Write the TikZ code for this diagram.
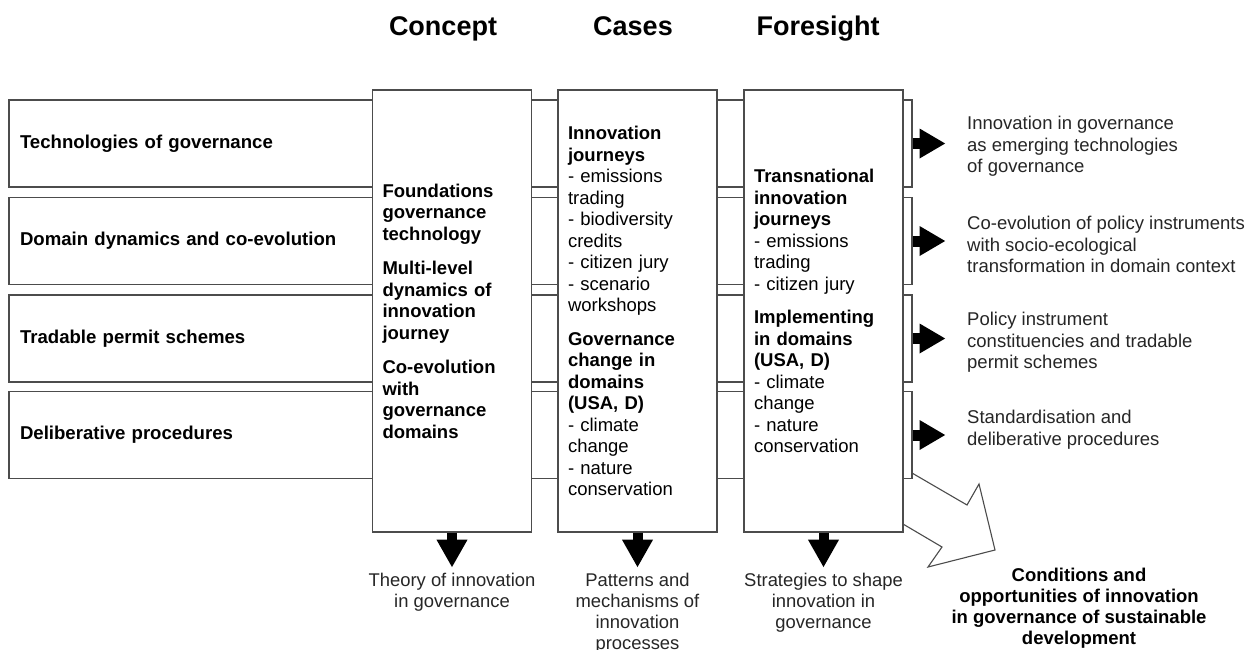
\documentclass[tikz,border=0pt]{standalone}
\usepackage{fontspec}
\setmainfont{Liberation Sans}
\usetikzlibrary{arrows.meta}
\begin{document}
\begin{tikzpicture}[x=1pt,y=-1pt,
  box/.style={draw=black!70, line width=1.1pt, fill=white, inner sep=0pt},
  rowbox/.style={box, minimum width=903pt, minimum height=87pt, text width=881pt, inner xsep=11pt, align=left, font=\fontsize{18.6}{21.5}\selectfont\bfseries},
  colbox/.style={box, minimum width=159pt, minimum height=442pt, text width=139pt, inner xsep=10pt, align=left, font=\fontsize{18.5}{21.5}\selectfont},
  head/.style={font=\fontsize{27}{30}\selectfont\bfseries, anchor=base, inner sep=0pt},
  outtxt/.style={anchor=north west, inner sep=0pt, align=left, font=\fontsize{18.5}{21.5}\selectfont, text=black!85},
  bottxt/.style={anchor=north, inner sep=0pt, align=center, font=\fontsize{18.4}{21}\selectfont, text=black!85},
  conctxt/.style={anchor=north, inner sep=0pt, align=center, font=\fontsize{18.5}{21}\selectfont\bfseries},
  rarrow/.style={line width=11pt, -{Triangle[length=26pt,width=28pt]}},
  darrow/.style={line width=10pt, -{Triangle[length=28pt,width=29pt]}},
  hollow/.style={draw=black!70, line width=1.1pt}
]
\useasboundingbox[fill=white] (0,0) rectangle (1258,649);

% headings
\node[head] (hc) at (443,35) {Concept};
\node[head] (hs) at (633,35) {Cases};
\node[head] (hf) at (818,35) {Foresight};

% rows
\node[rowbox] (r1) at (460.5,143.5) {Technologies of governance};
\node[rowbox] (r2) at (460.5,241) {Domain dynamics and co-evolution};
\node[rowbox] (r3) at (460.5,338.5) {Tradable permit schemes};
\node[rowbox] (r4) at (460.5,435) {Deliberative procedures};

% hollow arrow
\coordinate (h1) at (912,473);
\coordinate (h2) at (967,505);
\coordinate (h3) at (979,484);
\coordinate (h4) at (995,550);
\coordinate (h5) at (928,567);
\coordinate (h6) at (942,547);
\coordinate (h7) at (903,524);
\draw[hollow, line join=miter] (h1) -- (h2) -- (h3) -- (h4) -- (h5) -- (h6) -- (h7);

% columns
\node[colbox] (concept) at (452,311) {\bfseries Foundations\\ governance\\ technology\\[13pt] Multi-level\\ dynamics of\\ innovation\\ journey\\[13pt] Co-evolution\\ with\\ governance\\ domains};
\node[colbox] (cases) at (637.5,311) {\textbf{Innovation}\\ \textbf{journeys}\\ - emissions\\ trading\\ - biodiversity\\ credits\\ - citizen jury\\ - scenario\\ workshops\\[12pt] \textbf{Governance}\\ \textbf{change in}\\ \textbf{domains}\\ \textbf{(USA, D)}\\ - climate\\ change\\ - nature\\ conservation};
\node[colbox] (foresight) at (823.5,311) {\textbf{Transnational}\\ \textbf{innovation}\\ \textbf{journeys}\\ - emissions\\ trading\\ - citizen jury\\[12pt] \textbf{Implementing}\\ \textbf{in domains}\\ \textbf{(USA, D)}\\ - climate\\ change\\ - nature\\ conservation};

% right arrows and texts
\draw[rarrow] (r1.east) -- ++(33,0);
\draw[rarrow] (r2.east) -- ++(33,0);
\draw[rarrow] (r3.east) -- ++(33,0);
\draw[rarrow] (r4.east) -- ++(33,0);
\node[outtxt] (o1) at (967,116) {Innovation in governance\\as emerging technologies\\of governance};
\node[outtxt] (o2) at (967,216) {Co-evolution of policy instruments\\with socio-ecological\\transformation in domain context};
\node[outtxt] (o3) at (967,312) {Policy instrument\\constituencies and tradable\\permit schemes};
\node[outtxt] (o4) at (967,410) {Standardisation and\\deliberative procedures};

% down arrows and texts
\draw[darrow] (concept.south) -- ++(0,35);
\draw[darrow] (cases.south) -- ++(0,35);
\draw[darrow] (foresight.south) -- ++(0,35);
\node[bottxt] (t1) at (452,573) {Theory of innovation\\in governance};
\node[bottxt] (t2) at (637.5,573) {Patterns and\\mechanisms of\\innovation\\processes};
\node[bottxt] (t3) at (823.5,573) {Strategies to shape\\innovation in\\governance};
\node[conctxt] (t4) at (1079,568) {Conditions and\\opportunities of innovation\\in governance of sustainable\\development};
\end{tikzpicture}
\end{document}
